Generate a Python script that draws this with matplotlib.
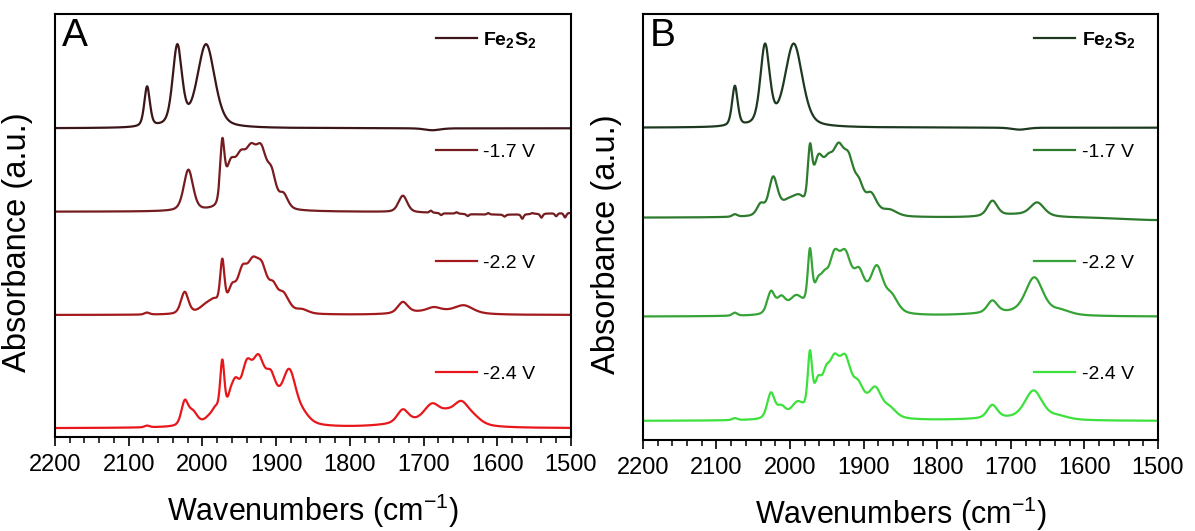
import numpy as np
import matplotlib.pyplot as plt
from matplotlib.ticker import MultipleLocator

plt.rcParams['font.family'] = ['Liberation Sans', 'DejaVu Sans']
plt.rcParams['mathtext.fontset'] = 'custom'
plt.rcParams['mathtext.rm'] = 'Liberation Sans'
plt.rcParams['mathtext.it'] = 'Liberation Sans:italic'
plt.rcParams['mathtext.bf'] = 'Liberation Sans:bold'

labels = [r'$\mathbf{Fe_2S_2}$', '-1.7 V', '-2.2 V', '-2.4 V']

# IR bands: centre (cm-1), height (a.u.), FWHM (cm-1)
fe_pos = [2075, 2034, 1995, 1688]
fe_amp = [0.40, 0.80, 0.83, -0.02]
fe_fwhm = [9, 15, 28, 25]

a17_pos = [2019, 1973, 1962, 1948, 1934, 1920, 1906, 1890, 1728, 1600,
           1690, 1676, 1655, 1640, 1612, 1590, 1566, 1552, 1540, 1520, 1508]
a17_amp = [0.41, 0.58, 0.38, 0.42, 0.45, 0.51, 0.29, 0.14, 0.165, -0.03,
           0.02, -0.02, 0.015, -0.02, 0.015, -0.02, -0.045, 0.01, -0.04, -0.03, -0.045]
a17_fwhm = [15, 7, 16, 18, 18, 18, 14, 14, 14, 160,
            4, 4, 4, 4, 4, 4, 4, 4, 4, 4, 4]

a22_pos = [2075, 2024, 1992, 1983, 1973, 1960, 1946, 1932, 1919, 1904, 1890, 1865,
           1728, 1680, 1686, 1645]
a22_amp = [0.02, 0.22, 0.10, 0.06, 0.48, 0.21, 0.36, 0.40, 0.38, 0.20, 0.18, 0.04,
           0.11, 0.04, 0.035, 0.07]
a22_fwhm = [8, 12, 24, 12, 7, 13, 16, 18, 18, 14, 18, 20,
            16, 90, 20, 28]

a24_pos = [2075, 2024, 2013, 1990, 1982, 1973, 1962, 1955, 1940, 1925, 1924, 1907,
           1882, 1862, 1728, 1695, 1688, 1668, 1649, 1630]
a24_amp = [0.017, 0.23, 0.13, 0.06, 0.09, 0.55, 0.13, 0.24, 0.37, 0.25, 0.40, 0.27,
           0.47, 0.06, 0.13, 0.06, 0.17, 0.05, 0.21, 0.05]
a24_fwhm = [8, 11, 15, 16, 10, 7, 10, 12, 16, 70, 18, 16,
            22, 20, 18, 110, 26, 20, 26, 24]

b17_pos = [2075, 2040, 2023, 2000, 1987, 1973, 1962, 1948, 1934, 1920, 1906, 1890,
           1865, 1725, 1690, 1664, 1500]
b17_amp = [0.025, 0.11, 0.36, 0.15, 0.09, 0.52, 0.47, 0.41, 0.52, 0.47, 0.22, 0.20,
           0.06, 0.15, 0.03, 0.13, -0.025]
b17_fwhm = [8, 12, 14, 30, 16, 7, 16, 18, 18, 18, 14, 18,
            24, 16, 80, 22, 100]

b22_pos = [2075, 2026, 2012, 1992, 1973, 1962, 1953, 1940, 1925, 1925, 1906, 1882,
           1862, 1725, 1700, 1668, 1632]
b22_amp = [0.03, 0.22, 0.15, 0.16, 0.54, 0.20, 0.18, 0.38, 0.20, 0.38, 0.25, 0.40,
           0.15, 0.12, 0.035, 0.36, 0.04]
b22_fwhm = [8, 12, 14, 22, 7, 12, 12, 16, 70, 18, 16, 20,
            20, 16, 120, 28, 30]

b24_pos = [2075, 2026, 2012, 1990, 1973, 1962, 1951, 1940, 1925, 1925, 1907, 1884,
           1864, 1725, 1700, 1669, 1635]
b24_amp = [0.02, 0.255, 0.11, 0.14, 0.56, 0.27, 0.25, 0.38, 0.18, 0.40, 0.18, 0.24,
           0.08, 0.13, 0.025, 0.28, 0.03]
b24_fwhm = [8, 12, 14, 20, 7, 12, 12, 16, 70, 18, 16, 20,
            20, 16, 120, 28, 30]

# vertical stacking offsets (top to bottom)
offsets_a = [3.087, 2.253, 1.22, 0.087]
offsets_b = [3.123, 2.223, 1.233, 0.19]

colors_a = ['#3b1517', '#741c1f', '#a3191c', '#e8171b']
colors_b = ['#1d3a20', '#2d7a2d', '#36a336', '#3ce13c']

wn = np.linspace(1500, 2200, 1751)


def band(x, c, h, w, eta=0.4):
    # pseudo-Voigt line shape
    r2 = (2 * (x - c) / w) ** 2
    return h * ((1 - eta) * np.exp(-np.log(2) * r2) + eta / (1 + r2))


def spectrum(pos, amp, fwhm):
    y = np.zeros_like(wn)
    for c, h, w in zip(pos, amp, fwhm):
        y += band(wn, c, h, w)
    return y


def draw_panel(ax, traces, offsets, colors, letter, ylim, legx, ylab_x):
    lines = []
    for (pos, amp, fwhm), off, col in zip(traces, offsets, colors):
        ln, = ax.plot(wn, spectrum(pos, amp, fwhm) + off, color=col, lw=1.6)
        lines.append(ln)
    ax.set_xlim(2200, 1500)
    ax.set_ylim(*ylim)
    ax.set_yticks([])
    ax.xaxis.set_major_locator(MultipleLocator(100))
    ax.xaxis.set_minor_locator(MultipleLocator(20))
    ax.tick_params(axis='x', which='major', direction='out', length=6.5, width=1.2,
                   labelsize=17, pad=6)
    ax.tick_params(axis='x', which='minor', direction='out', length=4, width=1.1)
    for sp in ax.spines.values():
        sp.set_linewidth(1.5)
    ax.set_xlabel('Wavenumbers (cm$^{-1}$)', fontsize=22, labelpad=11)
    ax.set_ylabel('Absorbance (a.u.)', fontsize=23.5)
    ax.yaxis.set_label_coords(ylab_x, 0.46)
    ax.text(0.013, 0.99, letter, transform=ax.transAxes, fontsize=28,
            va='top', ha='left')
    ax.legend(lines, labels, loc='upper left', bbox_to_anchor=(legx, 0.962),
              frameon=False, fontsize=14, handlelength=2.1, handletextpad=0.35,
              labelspacing=4.8, borderpad=0, borderaxespad=0)


fig = plt.figure(figsize=(11.95, 5.31), dpi=100)
ax_a = fig.add_axes([0.046, 0.177, 0.4318, 0.7966])
ax_b = fig.add_axes([0.538, 0.1714, 0.431, 0.8022])

traces_a = [(fe_pos, fe_amp, fe_fwhm), (a17_pos, a17_amp, a17_fwhm),
            (a22_pos, a22_amp, a22_fwhm), (a24_pos, a24_amp, a24_fwhm)]
traces_b = [(fe_pos, fe_amp, fe_fwhm), (b17_pos, b17_amp, b17_fwhm),
            (b22_pos, b22_amp, b22_fwhm), (b24_pos, b24_amp, b24_fwhm)]

draw_panel(ax_a, traces_a, offsets_a, colors_a, 'A', (0, 4.23), 0.738, -0.043)
draw_panel(ax_b, traces_b, offsets_b, colors_b, 'B', (0, 4.26), 0.76, -0.041)

fig.savefig('out.png', dpi=100)
